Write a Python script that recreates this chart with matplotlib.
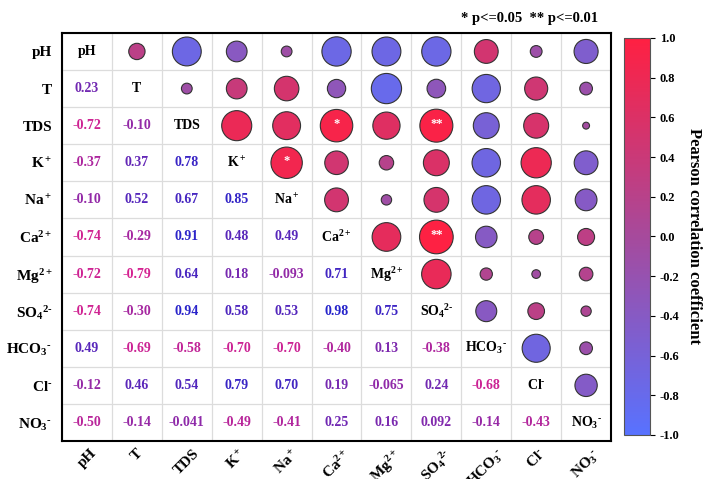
import numpy as np
import matplotlib
matplotlib.use('Agg')
import matplotlib.pyplot as plt
from matplotlib.colors import LinearSegmentedColormap, Normalize

plt.rcParams['font.family'] = 'Liberation Serif'
plt.rcParams['font.weight'] = 'bold'
plt.rcParams['mathtext.fontset'] = 'custom'
plt.rcParams['mathtext.rm'] = 'Liberation Serif:bold'
plt.rcParams['mathtext.it'] = 'Liberation Serif:bold'
plt.rcParams['mathtext.bf'] = 'Liberation Serif:bold'
plt.rcParams['axes.unicode_minus'] = False

# variables (short hyphen for the ion charges)
labels = ['pH', 'T', 'TDS', 'K$^+$', 'Na$^+$', 'Ca$^{2+}$', 'Mg$^{2+}$',
          r'SO$_4$$^{2\text{-}}$', r'HCO$_3$$^{\text{-}}$', r'Cl$^{\text{-}}$',
          r'NO$_3$$^{\text{-}}$']

# lower triangle of the Pearson matrix, row by row
lower = [
    [],
    [0.23],
    [-0.72, -0.10],
    [-0.37, 0.37, 0.78],
    [-0.10, 0.52, 0.67, 0.85],
    [-0.74, -0.29, 0.91, 0.48, 0.49],
    [-0.72, -0.79, 0.64, 0.18, -0.093, 0.71],
    [-0.74, -0.30, 0.94, 0.58, 0.53, 0.98, 0.75],
    [0.49, -0.69, -0.58, -0.70, -0.70, -0.40, 0.13, -0.38],
    [-0.12, 0.46, 0.54, 0.79, 0.70, 0.19, -0.065, 0.24, -0.68],
    [-0.50, -0.14, -0.041, -0.49, -0.41, 0.25, 0.16, 0.092, -0.14, -0.43],
]
lower_text = [
    [],
    ['0.23'],
    ['-0.72', '-0.10'],
    ['-0.37', '0.37', '0.78'],
    ['-0.10', '0.52', '0.67', '0.85'],
    ['-0.74', '-0.29', '0.91', '0.48', '0.49'],
    ['-0.72', '-0.79', '0.64', '0.18', '-0.093', '0.71'],
    ['-0.74', '-0.30', '0.94', '0.58', '0.53', '0.98', '0.75'],
    ['0.49', '-0.69', '-0.58', '-0.70', '-0.70', '-0.40', '0.13', '-0.38'],
    ['-0.12', '0.46', '0.54', '0.79', '0.70', '0.19', '-0.065', '0.24', '-0.68'],
    ['-0.50', '-0.14', '-0.041', '-0.49', '-0.41', '0.25', '0.16', '0.092', '-0.14', '-0.43'],
]
# significance marks (row, col) in upper triangle
sig_rows = [2, 2, 3, 5]
sig_cols = [5, 7, 4, 7]
sig_marks = ['*', '**', '*', '**']

cbar_ticks = [-1.0, -0.8, -0.6, -0.4, -0.2, 0.0, 0.2, 0.4, 0.6, 0.8, 1.0]

n = len(labels)
corr = np.eye(n)
for i, row in enumerate(lower):
    for j, v in enumerate(row):
        corr[i, j] = v
        corr[j, i] = v

cmap = LinearSegmentedColormap.from_list('bp', ['#5872FF', '#A64A9C', '#FF2042'])
# numbers: magenta for negative, deep blue for positive
text_cmap = LinearSegmentedColormap.from_list('tx', ['#E8208A', '#8A2AAA', '#2424CC'])
norm = Normalize(-1, 1)

fig = plt.figure(figsize=(7.13, 4.79), dpi=100)
ax = fig.add_axes([0.087, 0.0793, 0.770, 0.852])
cax = fig.add_axes([0.875, 0.0919, 0.0365, 0.829])

# grid
for k in range(n + 1):
    ax.axhline(k - 0.5, color='#DCDCDC', lw=0.9, zorder=0)
    ax.axvline(k - 0.5, color='#DCDCDC', lw=0.9, zorder=0)

# upper triangle: circles
xs, ys, vals = [], [], []
for i in range(n):
    for j in range(i + 1, n):
        xs.append(j)
        ys.append(i)
        vals.append(corr[i, j])
vals = np.array(vals)
sc = ax.scatter(xs, ys, s=600 * np.abs(vals), c=vals, cmap=cmap, norm=norm,
                edgecolors='#333333', linewidths=0.8, zorder=3)

for r, c, m in zip(sig_rows, sig_cols, sig_marks):
    ax.text(c, r - 0.05, m, color='white', fontsize=9, ha='center', va='center', zorder=4)

# lower triangle: numbers
for i, row in enumerate(lower_text):
    for j, t in enumerate(row):
        ax.text(j, i, t, color=text_cmap(norm(corr[i, j])), fontsize=10,
                ha='center', va='center', fontweight='bold')

# diagonal names
for k, lab in enumerate(labels):
    ax.text(k, k, lab, color='black', fontsize=10, ha='center', va='center')

ax.set_xlim(-0.5, n - 0.5)
ax.set_ylim(n - 0.5, -0.5)
ax.set_xticks(range(n))
ax.set_yticks(range(n))
ax.set_yticklabels(labels, fontsize=11)
ax.set_xticklabels(labels, fontsize=11, rotation=45, ha='center')
ax.tick_params(axis='y', length=0, pad=7)
ax.tick_params(axis='x', length=0, pad=4)
for s in ax.spines.values():
    s.set_linewidth(1.5)

cb = fig.colorbar(sc, cax=cax, ticks=cbar_ticks)
cb.ax.set_yticklabels(['%.1f' % v for v in cbar_ticks], fontsize=9)
cb.outline.set_edgecolor('#555555')
cb.outline.set_linewidth(0.8)
cb.set_label('Pearson correlation coefficient', rotation=270, fontsize=12,
             fontweight='bold', labelpad=16)

fig.text(0.839, 0.962, '* p<=0.05  ** p<=0.01', ha='right', va='center', fontsize=10.5)

fig.savefig('out.png', dpi=100)
